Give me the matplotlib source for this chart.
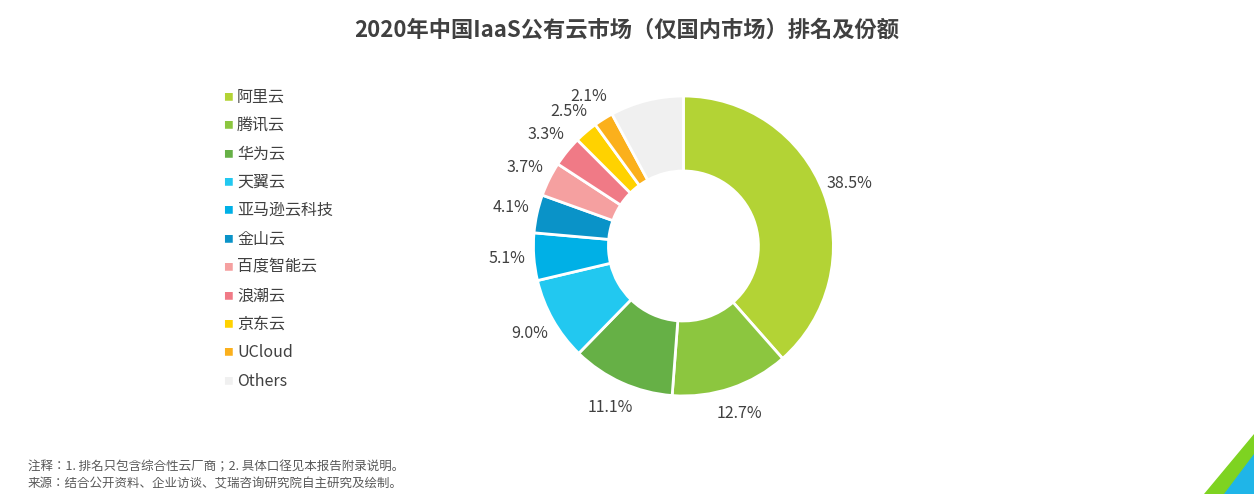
import numpy as np
import matplotlib.pyplot as plt
from matplotlib.patches import Polygon

plt.rcParams['font.family'] = 'sans-serif'
plt.rcParams['font.sans-serif'] = ['Noto Sans CJK SC', 'Noto Sans CJK JP', 'Noto Sans CJK TC',
                                   'Noto Sans CJK KR', 'DejaVu Sans']

# Data
vendors = ['阿里云', '腾讯云', '华为云', '天翼云', '亚马逊云科技', '金山云',
           '百度智能云', '浪潮云', '京东云', 'UCloud', 'Others']
shares = [38.5, 12.7, 11.1, 9.0, 5.1, 4.1, 3.7, 3.3, 2.5, 2.1, 7.9]
colors = ['#b3d335', '#8cc63f', '#66b046', '#22c8f0', '#00b0e6', '#0a93c8',
          '#f5a0a0', '#f07a86', '#ffd200', '#fbb01c', '#f0f0f0']

fig = plt.figure(figsize=(12.54, 4.94), dpi=100)
fig.patch.set_facecolor('white')

ax = fig.add_axes([0.545 - 0.1196, 0.502 - 0.3036, 0.2392, 0.6073])
wedges, _ = ax.pie(shares, colors=colors, startangle=90, counterclock=False,
                   wedgeprops=dict(width=0.5, edgecolor='white', linewidth=2))
ax.set_xlim(-1, 1)
ax.set_ylim(-1, 1)
ax.set_aspect('equal')

theta = 90.0
for w, s in zip(wedges, shares):
    mid = np.deg2rad(theta - s * 3.6 / 2)
    theta -= s * 3.6
    if s == 7.9:
        continue
    r = 1.18
    x, y = r * np.cos(mid), r * np.sin(mid)
    ax.text(x, y, f'{s:.1f}%', ha='center', va='center', fontsize=11.5,
            color='#404040', clip_on=False)

# Legend drawn manually
for i, (v, c) in enumerate(zip(vendors, colors)):
    yy = 1 - (97 + i * 28.4) / 494
    fig.text(228 / 1254, yy, '■', color=c, fontsize=7, ha='center', va='center')
    fig.text(237 / 1254, yy, v, color='#404040', fontsize=11.5, va='center')

fig.text(0.5, 1 - 30 / 494, '2020年中国IaaS公有云市场（仅国内市场）排名及份额',
         ha='center', va='center', fontsize=16, fontweight='bold', color='#404040')
fig.text(28 / 1254, 1 - 467 / 494, '注释：1. 排名只包含综合性云厂商；2. 具体口径见本报告附录说明。',
         fontsize=9, color='#595959', va='center')
fig.text(28 / 1254, 1 - 484 / 494, '来源：结合公开资料、企业访谈、艾瑞咨询研究院自主研究及绘制。',
         fontsize=9, color='#595959', va='center')

# corner decoration
fig.patches.append(Polygon([[1 - 50/1254, 0], [1, 0], [1, 60/494]], closed=True,
                           transform=fig.transFigure, color='#7ed321'))
fig.patches.append(Polygon([[1 - 30/1254, 0], [1, 0], [1, 40/494]], closed=True,
                           transform=fig.transFigure, color='#1fb5e8'))

fig.savefig('out.png', dpi=100)
